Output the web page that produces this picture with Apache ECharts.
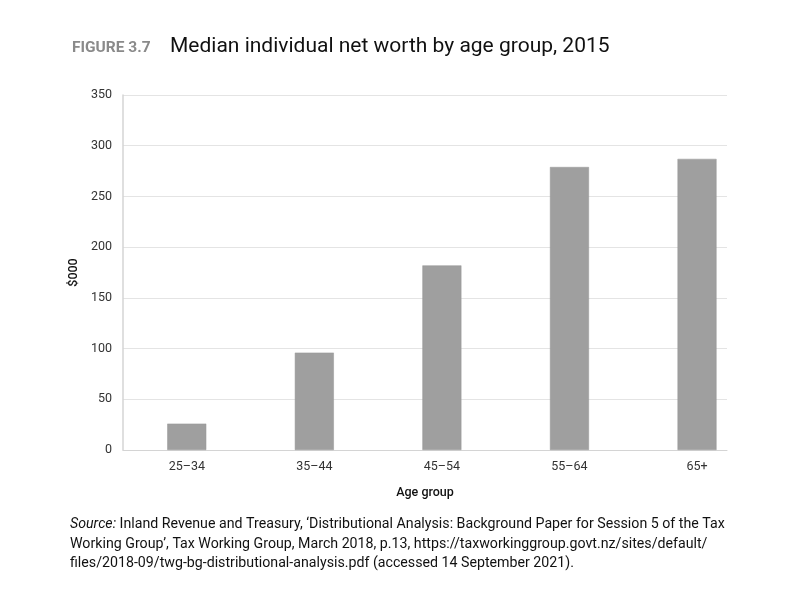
<!DOCTYPE html>
<html>
<head>
<meta charset="utf-8">
<script src="https://cdn.jsdelivr.net/npm/echarts@6/dist/echarts.min.js"></script>
<style>html,body{margin:0;padding:0;background:#fff;}#c{width:810px;height:590px;}</style>
</head>
<body>
<div id="c"></div>
<script>
var categories = ['25–34', '35–44', '45–54', '55–64', '65+'];
var values = [26, 96, 182, 279, 287];
var yTicks = [0, 50, 100, 150, 200, 250, 300, 350];
var sourceLines = [
  'Inland Revenue and Treasury, ‘Distributional Analysis: Background Paper for Session 5 of the Tax',
  'Working Group’, Tax Working Group, March 2018, p.13, https://taxworkinggroup.govt.nz/sites/default/',
  'files/2018-09/twg-bg-distributional-analysis.pdf (accessed 14 September 2021).'
];

var chart = echarts.init(document.getElementById('c'), null, {renderer: 'canvas'});
var FONT = 'Roboto, "Noto Sans", sans-serif';
var SRC = 14.2;
chart.setOption({
  animation: false,
  backgroundColor: '#fff',
  grid: {left: 123, right: 83, top: 95, bottom: 140, containLabel: false},
  xAxis: {
    type: 'value',
    min: -0.5,
    max: 4.235,
    interval: 0.5,
    name: 'Age group',
    nameLocation: 'middle',
    nameGap: 36,
    nameTextStyle: {fontFamily: FONT, fontSize: 12.5, fontWeight: 500, color: '#111'},
    axisLine: {show: true, lineStyle: {color: '#d4d4d4', width: 1}},
    axisTick: {show: false},
    splitLine: {show: false},
    axisLabel: {
      fontFamily: FONT, fontSize: 12.5, color: '#333', margin: 10,
      formatter: function (v) {
        var r = Math.round(v);
        return (Math.abs(v - r) < 1e-6 && categories[r] !== undefined) ? categories[r] : '';
      }
    }
  },
  yAxis: {
    type: 'value',
    min: yTicks[0],
    max: yTicks[yTicks.length - 1],
    interval: 50,
    name: '$000',
    nameLocation: 'middle',
    nameGap: 41,
    nameRotate: 90,
    nameTextStyle: {fontFamily: FONT, fontSize: 12.5, fontWeight: 500, color: '#111'},
    axisLine: {show: true, onZero: false, lineStyle: {color: '#d4d4d4', width: 1.5}},
    axisTick: {show: false},
    splitLine: {show: true, lineStyle: {color: '#e4e4e4', width: 1}},
    axisLabel: {fontFamily: FONT, fontSize: 12.5, color: '#333', margin: 11}
  },
  series: [{
    type: 'bar',
    barWidth: 39,
    itemStyle: {color: '#9f9f9f', borderColor: '#979797', borderWidth: 0.5},
    data: categories.map(function (c, i) { return [i, values[i]]; })
  }],
  graphic: [
    {
      type: 'text', left: 72, top: 40,
      style: {text: 'FIGURE 3.7', fontFamily: FONT, fontSize: 15.5, fontWeight: 'bold', fill: '#8a8a8a', letterSpacing: 0.5}
    },
    {
      type: 'text', left: 170, top: 36,
      style: {text: 'Median individual net worth by age group, 2015', fontFamily: FONT, fontSize: 21, fill: '#111'}
    },
    {
      type: 'text', left: 70, top: 517,
      style: {
        text: '{i|Source:} ' + sourceLines[0],
        rich: {i: {fontFamily: FONT, fontSize: SRC, fontStyle: 'italic', fill: '#111'}},
        fontFamily: FONT, fontSize: SRC, fill: '#111'
      }
    },
    {
      type: 'text', left: 70, top: 537,
      style: {text: sourceLines[1], fontFamily: FONT, fontSize: SRC, fill: '#111'}
    },
    {
      type: 'text', left: 70, top: 556,
      style: {text: sourceLines[2], fontFamily: FONT, fontSize: SRC, fill: '#111'}
    }
  ]
});
</script>
</body>
</html>
